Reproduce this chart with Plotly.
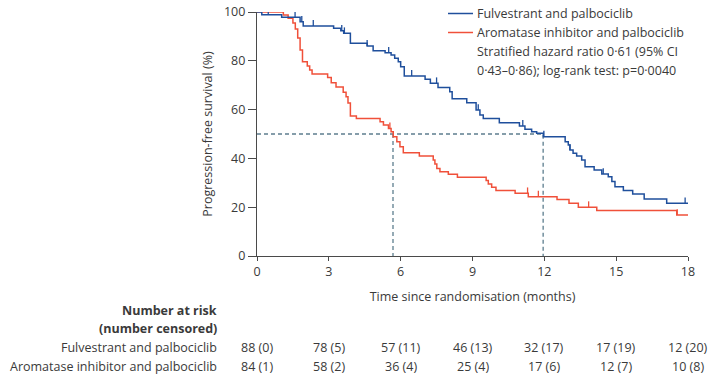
import plotly.graph_objects as go

# ---------------- data ----------------
months_ticks = [0, 3, 6, 9, 12, 15, 18]

fulv_times = [0, 0.2, 1.03, 1.8, 1.93, 3.2, 3.5, 3.62, 3.9, 4.6, 4.85, 5.35, 5.6, 5.75, 5.9, 6.0,
              6.15, 7.02, 7.24, 7.56, 8.05, 8.15, 8.76, 9.15, 9.31, 9.45, 10.12, 10.96, 11.19,
              11.47, 11.68, 11.96, 12.87, 13.0, 13.07, 13.2, 13.35, 13.56, 13.7, 14.08, 14.4,
              14.67, 14.82, 14.95, 15.3, 15.69, 16.17, 17.11, 18.0]
fulv_surv = [100, 98.9, 97.8, 96.0, 94.3, 93.3, 92.3, 91.3, 87.2, 86.1, 84.1, 83.3, 82.4, 81.0, 79.6, 77.6,
             73.8, 72.4, 70.8, 69.1, 67.3, 64.4, 62.8, 59.8, 57.8, 56.4, 54.6, 53.3, 51.9,
             50.9, 50.3, 48.9, 46.8, 45.5, 43.4, 42.1, 41.0, 39.3, 36.6, 35.2, 33.6,
             32.5, 30.5, 28.4, 26.8, 25.4, 23.4, 21.6, 21.6]
fulv_censor = [0.47, 1.59, 1.87, 2.35, 3.54, 3.65, 4.6, 5.5, 6.46, 7.5, 9.24, 11.1, 11.98,
               13.07, 14.46, 17.88]

ai_times = [0, 1.1, 1.3, 1.5, 1.6, 1.7, 1.8, 1.9, 2.1, 2.2, 2.3, 2.95, 3.1, 3.3, 3.6, 3.72, 3.8,
            3.9, 4.15, 5.14, 5.28, 5.49, 5.6, 5.69, 5.84, 5.97, 6.11, 6.78, 7.36, 7.43, 7.51,
            7.64, 7.99, 8.37, 9.57, 9.66, 9.8, 9.98, 10.78, 11.33, 12.53, 13.03, 13.42, 14.19,
            17.53, 18.0]
ai_surv = [100, 98.8, 97.4, 95.5, 93.0, 89.3, 84.4, 79.6, 77.9, 76.2, 74.6, 73.2, 71.0, 69.3, 67.1, 65.3, 62.7,
           57.4, 56.4, 55.0, 53.7, 52.3, 50.9, 48.9, 46.8, 44.8, 42.3, 41.0, 39.3, 37.7, 35.9,
           34.5, 33.5, 32.3, 30.9, 29.5, 28.2, 26.8, 25.7, 24.3, 23.2, 21.6, 20.0, 18.6,
           16.8, 16.8]
ai_censor = [0.05, 5.55, 11.3, 11.75, 13.85, 17.55]

median_fulv = 11.95
median_ai = 5.68

risk_labels = ["Fulvestrant and palbociclib", "Aromatase inhibitor and palbociclib"]
risk_fulv = ["88 (0)", "78 (5)", "57 (11)", "46 (13)", "32 (17)", "17 (19)", "12 (20)"]
risk_ai = ["84 (1)", "58 (2)", "36 (4)", "25 (4)", "17 (6)", "12 (7)", "10 (8)"]

legend_names = ["Fulvestrant and palbociclib", "Aromatase inhibitor and palbociclib"]
stats_text = ["Stratified hazard ratio 0·61 (95% CI", "0·43–0·86); log-rank test: p=0·0040"]

# ---------------- style ----------------
BLUE = "#1f4f9c"
RED = "#f0503a"
DASH = "#5d7e8e"
TXT = "#3a3a3a"
AX = "#4a4a4a"
FONT = "Open Sans"
FS = 12.5
TICK_H = 2.4


def step_value(times, surv, t):
    v = surv[0]
    for ti, si in zip(times, surv):
        if ti <= t:
            v = si
    return v


def censor_xy(times, surv, cens):
    xs, ys = [], []
    for c in cens:
        s = step_value(times, surv, c)
        xs += [c, c, None]
        ys += [s, s + TICK_H, None]
    return xs, ys


fig = go.Figure()

# median reference lines
fig.add_trace(go.Scatter(x=[0, median_fulv, median_fulv], y=[50, 50, 0], mode="lines",
                         line=dict(color=DASH, width=1.3, dash="4px,3px"), hoverinfo="skip",
                         showlegend=False))
fig.add_trace(go.Scatter(x=[median_ai, median_ai], y=[50, 0], mode="lines",
                         line=dict(color=DASH, width=1.3, dash="4px,3px"), hoverinfo="skip",
                         showlegend=False))

for times, surv, cens, col in [(ai_times, ai_surv, ai_censor, RED),
                               (fulv_times, fulv_surv, fulv_censor, BLUE)]:
    fig.add_trace(go.Scatter(x=times, y=surv, mode="lines", line=dict(color=col, width=1.5, shape="hv"),
                             cliponaxis=False, showlegend=False))
    cx, cy = censor_xy(times, surv, cens)
    fig.add_trace(go.Scatter(x=cx, y=cy, mode="lines", line=dict(color=col, width=1.3),
                             cliponaxis=False, showlegend=False))

W, H = 715, 377
# plot area in page pixels: px 257..688 horizontally, py 12..256 vertically
L, R, T, B = 257, 688, 12, 256


def px2x(px):
    return (px - L) / (R - L)


def py2y(py):
    return (B - py) / (B - T)


annotations = []
shapes = []

# manual legend
for i, (name, col) in enumerate(zip(legend_names, [BLUE, RED])):
    yy = py2y(13.5 + i * 19)
    shapes.append(dict(type="line", xref="paper", yref="paper", x0=px2x(448), x1=px2x(473),
                       y0=yy, y1=yy, line=dict(color=col, width=1.5)))
    annotations.append(dict(text=name, xref="paper", yref="paper", x=px2x(475), y=yy,
                            xanchor="left", yanchor="middle", showarrow=False,
                            font=dict(family=FONT, size=FS, color=TXT)))
for i, s in enumerate(stats_text):
    yy = py2y(51.5 + i * 18.5)
    annotations.append(dict(text=s, xref="paper", yref="paper", x=px2x(475), y=yy,
                            xanchor="left", yanchor="middle", showarrow=False,
                            font=dict(family=FONT, size=FS, color=TXT)))

# risk table
annotations.append(dict(text="<b>Number at risk</b>", xref="paper", yref="paper", x=px2x(219),
                        y=py2y(310), xanchor="right", yanchor="middle", showarrow=False,
                        font=dict(family=FONT, size=FS, color=TXT)))
annotations.append(dict(text="<b>(number censored)</b>", xref="paper", yref="paper", x=px2x(219),
                        y=py2y(328.5), xanchor="right", yanchor="middle", showarrow=False,
                        font=dict(family=FONT, size=FS, color=TXT)))
for j, (lab, row) in enumerate(zip(risk_labels, [risk_fulv, risk_ai])):
    yy = py2y(347.5 + j * 18.5)
    annotations.append(dict(text=lab, xref="paper", yref="paper", x=px2x(219), y=yy,
                            xanchor="right", yanchor="middle", showarrow=False,
                            font=dict(family=FONT, size=FS, color=TXT)))
    for t, val in zip(months_ticks, row):
        annotations.append(dict(text=val, xref="x", yref="paper", x=t, y=yy,
                                xanchor="center", yanchor="middle", showarrow=False,
                                font=dict(family=FONT, size=FS, color=TXT)))

fig.update_layout(
    width=W, height=H,
    margin=dict(l=L, r=W - R, t=T, b=H - B, pad=0),
    plot_bgcolor="white", paper_bgcolor="white",
    font=dict(family=FONT, size=FS, color=TXT),
    annotations=annotations, shapes=shapes,
    showlegend=False, hovermode=False,
)
fig.update_xaxes(range=[0, 18], tickvals=months_ticks, showgrid=False, zeroline=False,
                 showline=True, linecolor=AX, linewidth=1.3, ticks="outside", ticklen=4,
                 tickcolor=AX, tickfont=dict(family=FONT, size=FS, color=TXT), automargin=False,
                 title=dict(text="Time since randomisation (months)", standoff=13,
                            font=dict(family=FONT, size=FS, color=TXT)))
fig.update_yaxes(range=[0, 100], tickvals=[0, 20, 40, 60, 80, 100], showgrid=False, zeroline=False,
                 showline=True, linecolor=AX, linewidth=1.3, ticks="outside", ticklen=8,
                 tickcolor=AX, tickfont=dict(family=FONT, size=FS, color=TXT), automargin=False,
                 title=dict(text="Progression-free survival (%)", standoff=8,
                            font=dict(family=FONT, size=FS, color=TXT)))

# remove the default page margin so the 715x377 figure fills the window exactly
fig.write_html("out.html", config={"displayModeBar": False},
               post_script="document.body.style.margin='0px';")
